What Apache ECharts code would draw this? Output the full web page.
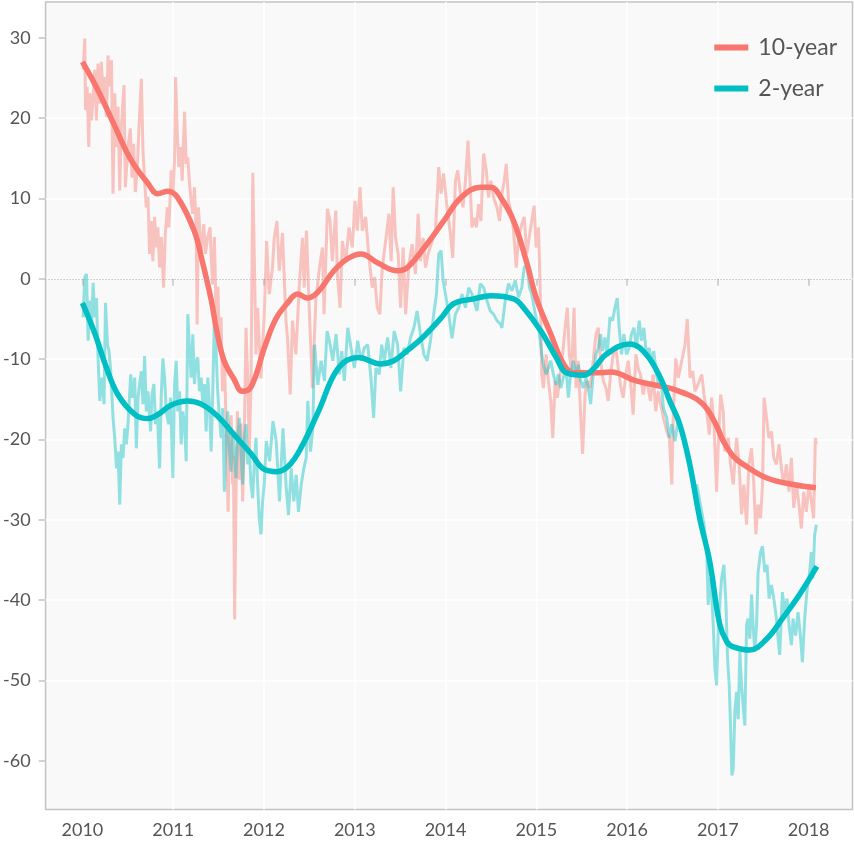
<!DOCTYPE html>
<html>
<head>
<meta charset="utf-8">
<script src="https://cdn.jsdelivr.net/npm/echarts@6/dist/echarts.min.js"></script>
<style>
html,body{margin:0;padding:0;background:#ffffff;}
#chart{width:854px;height:843px;}
</style>
</head>
<body>
<div id="chart"></div>
<script>
// Axis tick values
const yearTicks = [2010, 2011, 2012, 2013, 2014, 2015, 2016, 2017, 2018];
const valueTicks = [-60, -50, -40, -30, -20, -10, 0, 10, 20, 30];

// Smoothed series [decimal year, value]
const tenYearSmooth = [[2010.00,27.0],[2010.17,23.5],[2010.36,18.9],[2010.54,14.7],[2010.72,11.9],[2010.83,10.6],[2010.94,10.9],[2011.05,10.1],[2011.23,6.0],[2011.32,2.2],[2011.42,-2.7],[2011.48,-6.5],[2011.56,-10.2],[2011.67,-12.5],[2011.76,-14.0],[2011.86,-13.4],[2012.01,-8.4],[2012.13,-5.0],[2012.26,-3.0],[2012.37,-1.9],[2012.48,-2.4],[2012.59,-1.7],[2012.77,1.0],[2012.92,2.5],[2013.07,3.1],[2013.25,2.0],[2013.47,1.0],[2013.58,1.4],[2013.80,4.4],[2013.98,7.2],[2014.17,10.1],[2014.39,11.4],[2014.50,11.4],[2014.61,10.1],[2014.75,7.2],[2014.89,2.2],[2015.00,-2.4],[2015.16,-6.9],[2015.30,-10.6],[2015.41,-11.7],[2015.66,-11.7],[2015.82,-11.6],[2016.10,-12.7],[2016.47,-13.6],[2016.62,-14.2],[2016.77,-15.0],[2016.88,-16.2],[2016.99,-18.4],[2017.06,-20.2],[2017.17,-22.1],[2017.28,-23.1],[2017.54,-24.8],[2017.83,-25.6],[2018.08,-26.0]];

const twoYearSmooth = [[2010.00,-3.0],[2010.14,-6.9],[2010.25,-10.6],[2010.39,-14.4],[2010.58,-16.9],[2010.72,-17.4],[2010.83,-16.9],[2010.98,-15.7],[2011.16,-15.2],[2011.31,-15.6],[2011.49,-17.1],[2011.67,-19.4],[2011.86,-21.8],[2012.00,-23.7],[2012.14,-24.0],[2012.27,-23.3],[2012.41,-21.0],[2012.60,-16.5],[2012.82,-11.1],[2013.04,-9.8],[2013.29,-10.6],[2013.43,-10.2],[2013.57,-9.0],[2013.73,-7.5],[2013.95,-4.9],[2014.09,-3.1],[2014.31,-2.5],[2014.50,-2.1],[2014.75,-2.5],[2014.86,-3.6],[2015.05,-6.5],[2015.22,-9.8],[2015.33,-11.7],[2015.52,-12.0],[2015.63,-11.2],[2015.77,-9.4],[2016.03,-8.1],[2016.21,-9.4],[2016.37,-12.4],[2016.47,-15.2],[2016.58,-18.1],[2016.69,-23.1],[2016.80,-29.8],[2016.91,-35.2],[2017.02,-43.0],[2017.10,-45.2],[2017.17,-45.8],[2017.35,-46.2],[2017.54,-44.8],[2017.71,-42.3],[2017.90,-39.3],[2018.09,-35.8]];

// Raw (noisy) series [decimal year, value]
const tenYearRaw = [[2010.008,26.0],[2010.026,29.9],[2010.034,21.0],[2010.052,23.9],[2010.070,16.4],[2010.081,23.1],[2010.100,19.7],[2010.136,26.0],[2010.155,19.7],[2010.172,26.8],[2010.191,21.8],[2010.210,27.0],[2010.227,22.2],[2010.246,25.1],[2010.265,20.1],[2010.282,27.8],[2010.301,23.9],[2010.320,27.2],[2010.337,10.6],[2010.356,23.1],[2010.375,16.4],[2010.392,21.4],[2010.411,11.0],[2010.429,18.9],[2010.458,24.1],[2010.473,11.4],[2010.502,16.4],[2010.528,18.7],[2010.546,12.6],[2010.565,16.8],[2010.583,10.8],[2010.605,13.9],[2010.623,18.9],[2010.649,24.9],[2010.667,16.0],[2010.685,12.2],[2010.704,8.9],[2010.722,10.2],[2010.740,3.1],[2010.759,7.2],[2010.776,2.2],[2010.795,7.7],[2010.814,3.9],[2010.831,6.4],[2010.850,1.4],[2010.869,5.2],[2010.894,-1.1],[2010.913,5.6],[2010.935,8.9],[2010.952,6.4],[2010.979,13.5],[2010.996,10.6],[2011.015,14.7],[2011.026,25.1],[2011.044,18.5],[2011.062,13.9],[2011.081,16.4],[2011.099,12.2],[2011.125,20.8],[2011.143,14.3],[2011.161,15.1],[2011.180,11.8],[2011.198,9.7],[2011.216,8.1],[2011.234,11.4],[2011.253,6.4],[2011.264,-5.7],[2011.278,8.9],[2011.308,3.1],[2011.337,6.8],[2011.355,3.1],[2011.381,5.2],[2011.407,6.4],[2011.418,2.7],[2011.435,-0.7],[2011.454,5.2],[2011.476,-6],[2011.493,-1],[2011.509,-9],[2011.528,-4.8],[2011.542,-14],[2011.564,-10],[2011.583,-18.1],[2011.605,-29],[2011.619,-20],[2011.638,-17],[2011.655,-25.6],[2011.663,-22],[2011.677,-42.4],[2011.692,-27],[2011.707,-16.5],[2011.729,-25],[2011.747,-18],[2011.765,-27.7],[2011.784,-19],[2011.802,-6.1],[2011.820,-12],[2011.839,-21.5],[2011.857,-13],[2011.877,13.2],[2011.912,-9.4],[2011.930,-3.6],[2011.967,-12.4],[2012.003,-4.4],[2012.029,4.7],[2012.058,-1.9],[2012.094,1.4],[2012.113,5.1],[2012.143,7.2],[2012.168,1.0],[2012.204,5.7],[2012.242,-5.2],[2012.259,-7.3],[2012.289,-14.4],[2012.314,-5.2],[2012.351,-9.4],[2012.388,-1.1],[2012.424,5.1],[2012.443,-1.1],[2012.468,6.0],[2012.498,-3.6],[2012.534,-13.6],[2012.571,-2.7],[2012.607,1.0],[2012.644,3.9],[2012.662,-4.4],[2012.699,8.7],[2012.728,7.2],[2012.753,2.2],[2012.791,8.5],[2012.808,0.6],[2012.838,-3.6],[2012.863,4.7],[2012.901,2.2],[2012.937,6.4],[2012.973,3.9],[2013.003,9.7],[2013.028,6.0],[2013.058,11.4],[2013.083,6.0],[2013.120,7.7],[2013.157,2.6],[2013.193,-1.1],[2013.219,0.2],[2013.248,-3.6],[2013.277,-4.4],[2013.303,1.4],[2013.340,4.7],[2013.376,8.1],[2013.401,2.2],[2013.423,11.4],[2013.450,5.1],[2013.478,3.1],[2013.505,-3.6],[2013.533,3.9],[2013.560,-4.4],[2013.596,1.8],[2013.632,4.3],[2013.669,0.6],[2013.698,8.1],[2013.724,2.2],[2013.753,5.1],[2013.779,1.4],[2013.808,3.1],[2013.852,4.7],[2013.889,6.0],[2013.925,13.9],[2013.951,10.6],[2013.980,13.1],[2014.016,8.9],[2014.054,5.6],[2014.079,2.6],[2014.109,12.2],[2014.134,13.5],[2014.164,10.6],[2014.192,8.9],[2014.219,12.2],[2014.247,17.2],[2014.273,11.4],[2014.291,6.4],[2014.317,7.6],[2014.339,6.4],[2014.365,9.3],[2014.390,7.2],[2014.419,15.6],[2014.449,13.5],[2014.474,10.1],[2014.500,12.2],[2014.529,10.1],[2014.566,8.9],[2014.595,7.2],[2014.621,10.6],[2014.647,12.2],[2014.669,14.3],[2014.694,9.7],[2014.719,8.5],[2014.749,6.0],[2014.779,1.4],[2014.804,5.1],[2014.840,6.8],[2014.867,7.7],[2014.895,3.1],[2014.921,5.1],[2014.950,7.2],[2014.976,9.1],[2014.998,3.9],[2015.024,6.4],[2015.042,-1.1],[2015.060,-11.9],[2015.078,-13.6],[2015.108,-9.4],[2015.133,-12.7],[2015.159,-15.2],[2015.181,-19.8],[2015.207,-12.7],[2015.232,-14.8],[2015.262,-11.9],[2015.290,-9.4],[2015.317,-6.1],[2015.342,-3.6],[2015.364,-9.4],[2015.389,-11.5],[2015.416,-3.6],[2015.438,-13.6],[2015.463,-10.2],[2015.488,-16.9],[2015.510,-21.8],[2015.537,-14.4],[2015.562,-12.7],[2015.591,-13.6],[2015.627,-10.2],[2015.657,-6.9],[2015.683,-6.1],[2015.708,-10.2],[2015.738,-12.7],[2015.767,-13.6],[2015.792,-15.2],[2015.818,-11.9],[2015.847,-9.4],[2015.877,-8.6],[2015.902,-11.1],[2015.927,-13.2],[2015.957,-14.8],[2015.987,-11.9],[2016.012,-10.2],[2016.037,-12.7],[2016.067,-16.9],[2016.097,-9.4],[2016.122,-11.1],[2016.147,-11.9],[2016.177,-14.4],[2016.206,-12.7],[2016.232,-13.6],[2016.257,-15.2],[2016.287,-11.9],[2016.316,-16.5],[2016.342,-14],[2016.364,-14.0],[2016.400,-17.3],[2016.437,-19.0],[2016.466,-19.8],[2016.492,-25.6],[2016.510,-16.5],[2016.536,-9.9],[2016.565,-12.3],[2016.602,-10.2],[2016.638,-8.2],[2016.663,-5.0],[2016.693,-12.3],[2016.723,-11.5],[2016.748,-14.0],[2016.784,-13.1],[2016.822,-11.9],[2016.847,-14.4],[2016.877,-16.5],[2016.905,-19.4],[2016.931,-14.8],[2016.957,-18.1],[2016.986,-26.5],[2017.004,-20.6],[2017.030,-14.4],[2017.059,-16.5],[2017.077,-21.5],[2017.114,-19.8],[2017.140,-23.1],[2017.169,-25.6],[2017.206,-19.8],[2017.234,-23.1],[2017.261,-29.3],[2017.286,-25.6],[2017.316,-30.6],[2017.341,-23.1],[2017.371,-21.1],[2017.396,-25.6],[2017.418,-31.8],[2017.443,-28.1],[2017.470,-29.8],[2017.492,-25.6],[2017.509,-14.8],[2017.536,-17.3],[2017.561,-19.8],[2017.590,-19.0],[2017.616,-22.3],[2017.645,-23.1],[2017.674,-20.6],[2017.700,-23.6],[2017.725,-25.6],[2017.755,-23.1],[2017.784,-26.5],[2017.810,-22.3],[2017.835,-28.5],[2017.865,-25.6],[2017.893,-28.1],[2017.920,-31.1],[2017.945,-26.5],[2017.975,-29.0],[2018.003,-25.6],[2018.030,-27.7],[2018.055,-29.8],[2018.074,-19.8],[2018.085,-20.6]];

const twoYearRaw = [[2010.008,-4.8],[2010.026,0.2],[2010.045,0.6],[2010.063,-7.7],[2010.081,-2.7],[2010.100,-6.1],[2010.118,-0.5],[2010.136,-4.8],[2010.155,-2.4],[2010.172,-9.8],[2010.191,-15.2],[2010.216,-12.3],[2010.238,-15.6],[2010.254,-3.0],[2010.276,-8.2],[2010.293,-9.0],[2010.312,-11.5],[2010.337,-17.3],[2010.356,-19.8],[2010.375,-23.6],[2010.392,-21.5],[2010.411,-28.1],[2010.429,-20.6],[2010.447,-22.3],[2010.466,-18.6],[2010.484,-20.6],[2010.502,-18.1],[2010.532,-11.9],[2010.550,-14.8],[2010.576,-12.3],[2010.594,-21.1],[2010.612,-14.8],[2010.630,-13.1],[2010.649,-11.5],[2010.667,-15.6],[2010.685,-9.6],[2010.704,-16.5],[2010.722,-14.0],[2010.751,-19.0],[2010.766,-14.4],[2010.787,-13.1],[2010.806,-18.1],[2010.825,-16.5],[2010.850,-23.6],[2010.869,-14.4],[2010.886,-9.9],[2010.905,-12.3],[2010.924,-16.5],[2010.949,-18.1],[2010.971,-14.8],[2010.996,-24.8],[2011.015,-13.1],[2011.033,-10.2],[2011.051,-16.5],[2011.070,-14.0],[2011.088,-20.6],[2011.106,-16.5],[2011.125,-18.1],[2011.143,-22.7],[2011.161,-4.4],[2011.180,-9.0],[2011.198,-12.3],[2011.216,-6.9],[2011.234,-13.1],[2011.253,-10.2],[2011.271,-9.8],[2011.289,-14.0],[2011.308,-12.3],[2011.326,-15.6],[2011.344,-13.1],[2011.363,-19.0],[2011.381,-12.3],[2011.399,-15.6],[2011.418,-21.5],[2011.435,-14.4],[2011.454,-4.8],[2011.473,-9.0],[2011.490,-14.0],[2011.509,-17.3],[2011.528,-19.8],[2011.545,-16.1],[2011.564,-26.5],[2011.583,-19.8],[2011.600,-16.5],[2011.619,-21.5],[2011.638,-24.0],[2011.655,-19.0],[2011.674,-21.5],[2011.692,-24.8],[2011.710,-19.8],[2011.729,-17.3],[2011.747,-21.5],[2011.765,-25.6],[2011.784,-19.8],[2011.802,-18.1],[2011.820,-23.1],[2011.839,-21.5],[2011.857,-25.6],[2011.875,-27.3],[2011.893,-23.1],[2011.912,-19.8],[2011.930,-25.6],[2011.948,-29.8],[2011.967,-31.8],[2011.985,-27.7],[2012.003,-25.6],[2012.025,-20.2],[2012.062,-22.7],[2012.099,-17.7],[2012.135,-20.2],[2012.171,-27.7],[2012.209,-18.6],[2012.245,-26.0],[2012.270,-29.4],[2012.300,-23.6],[2012.329,-27.7],[2012.355,-24.4],[2012.380,-29.0],[2012.410,-25.6],[2012.439,-23.6],[2012.465,-22.3],[2012.483,-15.2],[2012.512,-21.5],[2012.538,-18.6],[2012.556,-8.2],[2012.593,-13.2],[2012.629,-10.2],[2012.666,-12.7],[2012.695,-6.5],[2012.721,-7.7],[2012.758,-10.2],[2012.794,-6.9],[2012.830,-11.9],[2012.857,-9.0],[2012.885,-12.7],[2012.923,-6.1],[2012.959,-8.6],[2012.995,-11.1],[2013.032,-7.7],[2013.069,-10.2],[2013.105,-8.6],[2013.142,-8.2],[2013.178,-12.3],[2013.208,-17.3],[2013.233,-11.1],[2013.270,-11.9],[2013.296,-8.2],[2013.325,-10.2],[2013.362,-7.3],[2013.398,-11.1],[2013.434,-6.5],[2013.472,-8.2],[2013.505,-14.0],[2013.541,-8.6],[2013.577,-9.4],[2013.615,-7.3],[2013.651,-6.1],[2013.687,-4.0],[2013.724,-6.9],[2013.761,-9.4],[2013.797,-10.2],[2013.834,-7.7],[2013.870,-4.4],[2013.900,-1.9],[2013.925,3.1],[2013.951,3.5],[2013.973,-0.2],[2013.999,-1.9],[2014.035,-4.4],[2014.071,-7.4],[2014.109,-4.4],[2014.145,-3.6],[2014.181,-1.9],[2014.219,-3.6],[2014.255,-1.1],[2014.291,-1.9],[2014.346,-4.0],[2014.383,-0.6],[2014.420,-1.1],[2014.456,-2.7],[2014.493,-4.0],[2014.529,-4.4],[2014.566,-5.2],[2014.603,-5.6],[2014.621,-6.1],[2014.658,-2.7],[2014.694,-0.6],[2014.730,-1.5],[2014.768,-0.2],[2014.804,-2.3],[2014.840,-1.1],[2014.867,1.4],[2014.895,1.8],[2014.925,-1.1],[2014.950,-1.9],[2014.976,-3.6],[2015.005,-5.2],[2015.035,-6.9],[2015.060,-9.4],[2015.078,-10.7],[2015.108,-11.9],[2015.133,-11.1],[2015.159,-10.2],[2015.188,-11.9],[2015.218,-13.2],[2015.243,-11.9],[2015.269,-13.6],[2015.298,-12.3],[2015.328,-11.1],[2015.353,-14.8],[2015.378,-11.9],[2015.408,-10.2],[2015.438,-11.9],[2015.463,-10.7],[2015.488,-12.7],[2015.518,-13.6],[2015.548,-12.3],[2015.573,-13.6],[2015.598,-15.6],[2015.627,-11.9],[2015.657,-9.4],[2015.683,-8.6],[2015.708,-6.9],[2015.730,-9.0],[2015.756,-7.3],[2015.781,-9.4],[2015.811,-4.8],[2015.840,-5.2],[2015.866,-3.6],[2015.891,-2.4],[2015.913,-6.1],[2015.939,-9.4],[2015.965,-6.9],[2015.993,-9.4],[2016.023,-8.6],[2016.048,-6.9],[2016.075,-6.1],[2016.103,-8.6],[2016.133,-5.2],[2016.158,-7.7],[2016.184,-6.1],[2016.213,-9.4],[2016.243,-8.6],[2016.268,-10.2],[2016.294,-9.0],[2016.323,-11.9],[2016.353,-13.6],[2016.378,-12.7],[2016.400,-16.1],[2016.437,-17.3],[2016.466,-19.8],[2016.492,-18.1],[2016.528,-20.2],[2016.565,-17.3],[2016.602,-19.0],[2016.627,-20.6],[2016.657,-21.5],[2016.685,-23.1],[2016.712,-24.8],[2016.740,-26.5],[2016.767,-25.6],[2016.795,-27.3],[2016.822,-29.0],[2016.847,-30.6],[2016.877,-33.8],[2016.894,-40.6],[2016.913,-37.3],[2016.931,-39.0],[2016.949,-43.1],[2016.967,-48.5],[2016.986,-50.6],[2017.004,-43.9],[2017.023,-40.2],[2017.041,-37.3],[2017.066,-35.6],[2017.088,-40.2],[2017.107,-47.3],[2017.125,-50.6],[2017.140,-56.0],[2017.154,-61.8],[2017.169,-61.0],[2017.187,-53.9],[2017.206,-51.4],[2017.224,-54.8],[2017.242,-46.4],[2017.261,-50.6],[2017.278,-53.1],[2017.297,-55.6],[2017.316,-43.0],[2017.333,-42.3],[2017.352,-44.8],[2017.371,-39.3],[2017.388,-43.1],[2017.407,-46.4],[2017.426,-43.1],[2017.443,-36.5],[2017.470,-34.0],[2017.492,-33.3],[2017.517,-36.5],[2017.542,-35.6],[2017.564,-39.8],[2017.590,-38.1],[2017.616,-39.8],[2017.645,-42.3],[2017.663,-44.8],[2017.681,-46.8],[2017.711,-39.0],[2017.736,-41.5],[2017.762,-39.8],[2017.784,-43.1],[2017.810,-45.6],[2017.828,-42.3],[2017.857,-44.4],[2017.883,-41.5],[2017.909,-44.4],[2017.931,-47.7],[2017.956,-42.3],[2017.981,-38.9],[2018.011,-36.5],[2018.030,-34.0],[2018.047,-37.3],[2018.066,-31.9],[2018.085,-30.6]];

const RED = '#F8766D';
const CYAN = '#00BFC4';
const RED_RAW = 'rgba(248,118,109,0.42)';
const CYAN_RAW = 'rgba(0,191,196,0.42)';
const FONT = 'Lato';
const LABEL_COLOR = '#555555';
const TICK_COLOR = '#c4c4c4';

function isWhole(v) { return Math.abs(v - Math.round(v)) < 1e-6; }

const chart = echarts.init(document.getElementById('chart'), null, {renderer: 'canvas'});
chart.setOption({
  animation: false,
  backgroundColor: '#ffffff',
  grid: {
    left: 43.5, right: 1.5, top: 2, bottom: 33.5,
    show: true,
    backgroundColor: '#f9f9f9',
    borderColor: '#c4c4c4',
    borderWidth: 1.5
  },
  legend: {
    data: ['10-year', '2-year'],
    orient: 'vertical',
    right: 17,
    top: 36,
    padding: 0,
    itemGap: 18,
    icon: 'rect',
    itemWidth: 34,
    itemHeight: 6,
    selectedMode: false,
    textStyle: {
      fontFamily: FONT, fontSize: 23, color: LABEL_COLOR,
      padding: [0, 0, 0, 5]
    }
  },
  xAxis: {
    type: 'value',
    min: 2009.594,
    max: 2018.483,
    interval: 1,
    axisLine: {show: false},
    axisTick: {
      show: true, length: 7, customValues: yearTicks,
      lineStyle: {color: TICK_COLOR, width: 1.5}
    },
    axisLabel: {
      customValues: yearTicks,
      margin: 12,
      fontFamily: FONT, fontSize: 18, color: LABEL_COLOR,
      formatter: function (v) { return isWhole(v) ? String(Math.round(v)) : ''; }
    },
    splitLine: {
      show: true, showMinLine: false, showMaxLine: false,
      lineStyle: {color: '#ffffff', width: 1.5}
    }
  },
  yAxis: {
    type: 'value',
    min: -66.05,
    max: 34.45,
    interval: 10,
    axisLine: {show: false},
    axisTick: {
      show: true, length: 7, customValues: valueTicks,
      lineStyle: {color: TICK_COLOR, width: 1.5}
    },
    axisLabel: {
      customValues: valueTicks,
      margin: 15,
      fontFamily: FONT, fontSize: 18, color: LABEL_COLOR,
      formatter: function (v) { return (Math.abs(v / 10 - Math.round(v / 10)) < 1e-6) ? String(Math.round(v)) : ''; }
    },
    splitLine: {
      show: true, showMinLine: false, showMaxLine: false,
      lineStyle: {color: '#ffffff', width: 1.5}
    }
  },
  series: [
    {
      name: '10-year raw',
      type: 'line',
      data: tenYearRaw,
      showSymbol: false,
      silent: true,
      z: 1,
      itemStyle: {color: RED_RAW},
      lineStyle: {color: RED_RAW, width: 3},
      markLine: {
        silent: true,
        symbol: ['none', 'none'],
        label: {show: false},
        lineStyle: {color: '#a0a0a0', type: [1, 2], width: 1},
        data: [{yAxis: 0}]
      }
    },
    {
      name: '2-year raw',
      type: 'line',
      data: twoYearRaw,
      showSymbol: false,
      silent: true,
      z: 2,
      itemStyle: {color: CYAN_RAW},
      lineStyle: {color: CYAN_RAW, width: 3}
    },
    {
      name: '10-year',
      type: 'line',
      data: tenYearSmooth,
      smooth: 0.4,
      showSymbol: false,
      silent: true,
      z: 3,
      itemStyle: {color: RED},
      lineStyle: {color: RED, width: 5.5}
    },
    {
      name: '2-year',
      type: 'line',
      data: twoYearSmooth,
      smooth: 0.4,
      showSymbol: false,
      silent: true,
      z: 4,
      itemStyle: {color: CYAN},
      lineStyle: {color: CYAN, width: 5.5}
    }
  ]
});
</script>
</body>
</html>
